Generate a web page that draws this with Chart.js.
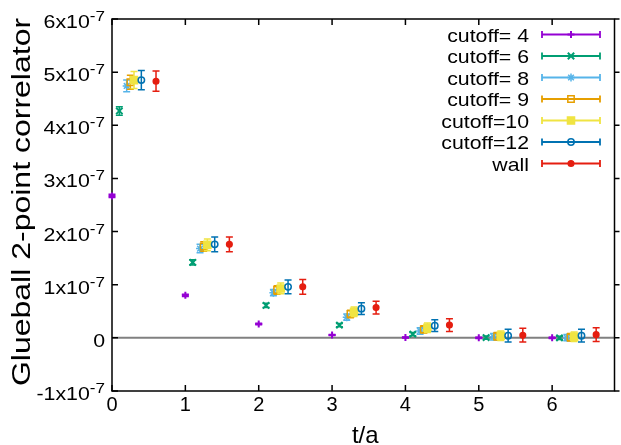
<!DOCTYPE html>
<html>
<head>
<meta charset="utf-8">
<script src="https://cdn.jsdelivr.net/npm/chart.js@4/dist/chart.umd.min.js"></script>
<style>
  html, body { margin: 0; padding: 0; background: #fff; }
  canvas { display: block; }
</style>
</head>
<body>
<canvas id="corr" width="621" height="445"></canvas>
<script>
// Euclidean time slices t/a
const timeSlices = [0, 1, 2, 3, 4, 5, 6];

// series labels and the small horizontal shift applied to each series
const seriesNames = ['cutoff= 4', 'cutoff= 6', 'cutoff= 8', 'cutoff= 9', 'cutoff=10', 'cutoff=12', 'wall'];
const xShifts = [0, 0.1, 0.2, 0.25, 0.3, 0.4, 0.6];

// glueball 2-point correlator C(t) for each smearing cutoff, with errors
const cutoff4  = [2.67e-7, 0.80e-7, 0.26e-7, 0.055e-7, 0.005e-7, 0.0, 0.0];
const cutoff4Err  = [0.03e-7, 0.02e-7, 0.015e-7, 0.01e-7, 0.01e-7, 0.01e-7, 0.01e-7];
const cutoff6  = [4.27e-7, 1.42e-7, 0.61e-7, 0.24e-7, 0.07e-7, 0.005e-7, 0.0];
const cutoff6Err  = [0.08e-7, 0.05e-7, 0.04e-7, 0.03e-7, 0.03e-7, 0.03e-7, 0.03e-7];
const cutoff8  = [4.74e-7, 1.68e-7, 0.85e-7, 0.39e-7, 0.13e-7, 0.02e-7, 0.005e-7];
const cutoff8Err  = [0.11e-7, 0.08e-7, 0.06e-7, 0.06e-7, 0.06e-7, 0.06e-7, 0.06e-7];
const cutoff9  = [4.81e-7, 1.72e-7, 0.90e-7, 0.45e-7, 0.16e-7, 0.03e-7, 0.01e-7];
const cutoff9Err  = [0.13e-7, 0.09e-7, 0.08e-7, 0.07e-7, 0.07e-7, 0.07e-7, 0.07e-7];
const cutoff10 = [4.85e-7, 1.75e-7, 0.93e-7, 0.49e-7, 0.19e-7, 0.04e-7, 0.02e-7];
const cutoff10Err = [0.16e-7, 0.11e-7, 0.10e-7, 0.09e-7, 0.09e-7, 0.09e-7, 0.09e-7];
const cutoff12 = [4.85e-7, 1.76e-7, 0.96e-7, 0.55e-7, 0.23e-7, 0.04e-7, 0.04e-7];
const cutoff12Err = [0.18e-7, 0.14e-7, 0.13e-7, 0.11e-7, 0.11e-7, 0.12e-7, 0.12e-7];
const wall     = [4.83e-7, 1.76e-7, 0.96e-7, 0.57e-7, 0.24e-7, 0.05e-7, 0.06e-7];
const wallErr     = [0.19e-7, 0.14e-7, 0.14e-7, 0.12e-7, 0.12e-7, 0.13e-7, 0.13e-7];

// axis ticks
const xTicks = [0, 1, 2, 3, 4, 5, 6];
const yTicks = [-1e-7, 0, 1e-7, 2e-7, 3e-7, 4e-7, 5e-7, 6e-7];

const seriesValues = [cutoff4, cutoff6, cutoff8, cutoff9, cutoff10, cutoff12, wall];
const seriesErrors = [cutoff4Err, cutoff6Err, cutoff8Err, cutoff9Err, cutoff10Err, cutoff12Err, wallErr];

// gnuplot-like palette and point types
const colors = ['#9400d3', '#009e73', '#56b4e9', '#e69f00', '#f0e442', '#0072b2', '#e51e10'];
const markers = [
  { pointStyle: 'cross',    radius: 3.5, width: 2,   filled: false },
  { pointStyle: 'crossRot', radius: 4.5, width: 2,   filled: false },
  { pointStyle: 'star',     radius: 4,   width: 1.5, filled: false },
  { pointStyle: 'rect',     radius: 4.5, width: 1.5, filled: false },
  { pointStyle: 'rect',     radius: 5,   width: 1.5, filled: true  },
  { pointStyle: 'circle',   radius: 3.2, width: 1.5, filled: false },
  { pointStyle: 'circle',   radius: 2.8, width: 1.5, filled: true  }
];

const FONT = '"Liberation Sans", Arial, Helvetica, sans-serif';

function drawStretched(ctx, text, x, y, px, align, sx) {
  ctx.save();
  ctx.font = px + 'px ' + FONT;
  const w = ctx.measureText(text).width * sx;
  const x0 = align === 'right' ? x - w : (align === 'center' ? x - w / 2 : x);
  ctx.translate(x0, y);
  ctx.scale(sx, 1);
  ctx.textAlign = 'left';
  ctx.textBaseline = 'alphabetic';
  ctx.fillStyle = '#000';
  ctx.fillText(text, 0, 0);
  ctx.restore();
  return w;
}

function textWidth(ctx, text, px, sx) {
  ctx.save();
  ctx.font = px + 'px ' + FONT;
  const w = ctx.measureText(text).width * sx;
  ctx.restore();
  return w;
}

function errorBar(ctx, x, yLo, yHi, half) {
  ctx.beginPath();
  ctx.moveTo(x, yLo); ctx.lineTo(x, yHi);
  ctx.moveTo(x - half, yLo); ctx.lineTo(x + half, yLo);
  ctx.moveTo(x - half, yHi); ctx.lineTo(x + half, yHi);
  ctx.stroke();
}

function marker(ctx, m, color, x, y) {
  ctx.save();
  ctx.strokeStyle = color;
  ctx.fillStyle = m.filled ? color : 'rgba(0,0,0,0)';
  ctx.lineWidth = m.width;
  Chart.helpers.drawPoint(ctx, { pointStyle: m.pointStyle, radius: m.radius, rotation: 0, borderWidth: m.width }, x, y);
  ctx.restore();
}

const frame = {
  id: 'frame',
  beforeDatasetsDraw(chart) {
    const { ctx, chartArea: a, scales: { x, y } } = chart;
    ctx.save();
    // zero line
    const y0 = y.getPixelForValue(0);
    ctx.strokeStyle = '#808080';
    ctx.lineWidth = 2;
    ctx.beginPath(); ctx.moveTo(a.left, y0); ctx.lineTo(a.right, y0); ctx.stroke();
    // border
    ctx.strokeStyle = '#000';
    ctx.lineWidth = 1.5;
    ctx.strokeRect(a.left, a.top, a.right - a.left, a.bottom - a.top);
    // tick marks
    ctx.beginPath();
    x.ticks.forEach(t => {
      const px = x.getPixelForValue(t.value);
      ctx.moveTo(px, a.bottom); ctx.lineTo(px, a.bottom - 6);
      ctx.moveTo(px, a.top); ctx.lineTo(px, a.top + 6);
    });
    y.ticks.forEach(t => {
      const py = y.getPixelForValue(t.value);
      ctx.moveTo(a.left, py); ctx.lineTo(a.left + 6, py);
      ctx.moveTo(a.right, py); ctx.lineTo(a.right + 5, py);
    });
    ctx.stroke();
    ctx.restore();
  },
  beforeDatasetDraw(chart, args) {
    const { ctx, scales: { y } } = chart;
    const i = args.index;
    const vals = seriesValues[i], errs = seriesErrors[i];
    ctx.save();
    ctx.strokeStyle = colors[i];
    ctx.lineWidth = 1.5;
    args.meta.data.forEach((pt, k) => {
      errorBar(ctx, pt.x, y.getPixelForValue(vals[k] - errs[k]), y.getPixelForValue(vals[k] + errs[k]), 3.5);
    });
    ctx.restore();
  },
  afterDraw(chart) {
    const { ctx, chartArea: a, scales: { x, y } } = chart;
    // x tick labels
    x.ticks.forEach(t => {
      drawStretched(ctx, String(t.value), x.getPixelForValue(t.value), a.bottom + 20, 20, 'center', 1.0);
    });
    // y tick labels with exponent
    y.ticks.forEach(t => {
      const py = y.getPixelForValue(t.value);
      const m = Math.round(t.value * 1e7);
      const right = 105;
      if (m === 0) {
        drawStretched(ctx, '0', right, py + 9, 17.5, 'right', 1.22);
      } else {
        const sup = '-7';
        const wSup = textWidth(ctx, sup, 14, 1.22);
        drawStretched(ctx, sup, right, py + 2, 14, 'right', 1.22);
        drawStretched(ctx, m + 'x10', right - wSup, py + 9, 17.5, 'right', 1.22);
      }
    });
    // axis titles
    drawStretched(ctx, 't/a', (a.left + a.right) / 2 + 2, 443, 24, 'center', 1.0);
    ctx.save();
    ctx.translate(30, 202);
    ctx.rotate(-Math.PI / 2);
    drawStretched(ctx, 'Glueball 2-point correlator', 0, 0, 25, 'center', 1.28);
    ctx.restore();
    // key
    const keyTextRight = 529, lineL = 542, lineR = 600, mid = 571;
    seriesNames.forEach((name, i) => {
      const ly = 34.5 + i * 21.5;
      drawStretched(ctx, name, keyTextRight, ly + 7, 19, 'right', 1.12);
      ctx.save();
      ctx.strokeStyle = colors[i];
      ctx.lineWidth = 1.8;
      ctx.beginPath();
      ctx.moveTo(lineL, ly); ctx.lineTo(lineR, ly);
      ctx.moveTo(lineL, ly - 3.5); ctx.lineTo(lineL, ly + 3.5);
      ctx.moveTo(lineR, ly - 3.5); ctx.lineTo(lineR, ly + 3.5);
      ctx.stroke();
      ctx.restore();
      marker(ctx, markers[i], colors[i], mid, ly);
    });
  }
};

const datasets = seriesNames.map((name, i) => ({
  label: name,
  data: timeSlices.map((t, k) => ({ x: t + xShifts[i], y: seriesValues[i][k] })),
  pointStyle: markers[i].pointStyle,
  pointRadius: markers[i].radius,
  pointBorderWidth: markers[i].width,
  borderColor: colors[i],
  pointBorderColor: colors[i],
  pointBackgroundColor: markers[i].filled ? colors[i] : 'rgba(0,0,0,0)',
  showLine: false,
  clip: false,
  order: seriesNames.length - i
}));

new Chart(document.getElementById('corr'), {
  type: 'scatter',
  data: { datasets },
  options: {
    responsive: false,
    animation: false,
    devicePixelRatio: 1,
    layout: { padding: { top: 19, right: 5, left: 0, bottom: 0 } },
    plugins: { legend: { display: false }, tooltip: { enabled: false } },
    scales: {
      x: {
        type: 'linear', min: 0, max: 6.85,
        ticks: { display: false },
        grid: { display: false },
        border: { display: false },
        afterBuildTicks(s) { s.ticks = xTicks.map(v => ({ value: v })); },
        afterFit(s) { s.height = 54; }
      },
      y: {
        type: 'linear', min: -1e-7, max: 6e-7,
        ticks: { display: false },
        grid: { display: false },
        border: { display: false },
        afterBuildTicks(s) { s.ticks = yTicks.map(v => ({ value: v })); },
        afterFit(s) { s.width = 112; }
      }
    }
  },
  plugins: [frame]
});
</script>
</body>
</html>
